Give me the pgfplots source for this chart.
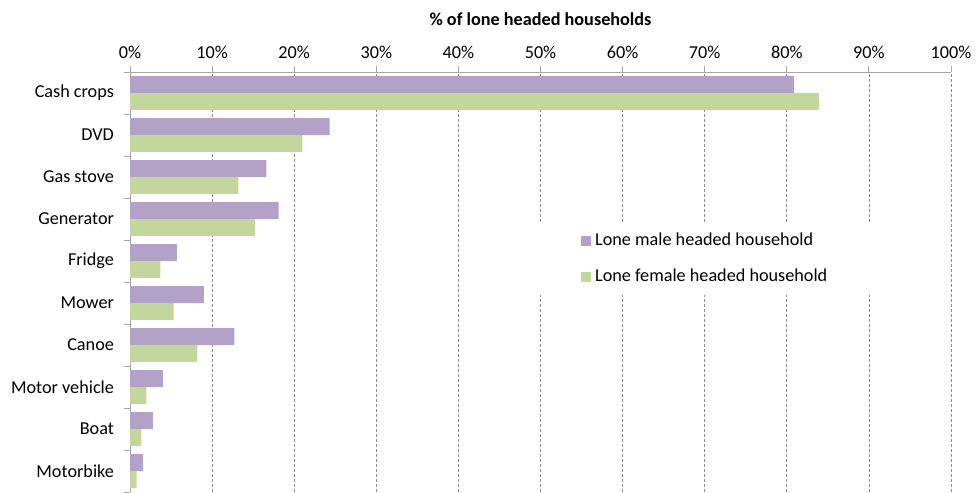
\documentclass[border=0pt]{standalone}
\usepackage{pgfplots}
\pgfplotsset{compat=1.18}
\usepackage{fontspec}
\setmainfont{Carlito}
\definecolor{malec}{HTML}{B3A2C7}
\definecolor{femalec}{HTML}{C3D69B}
\definecolor{axisgray}{HTML}{A6A6A6}
\definecolor{gridgray}{HTML}{8C8C8C}
\begin{document}
\begin{tikzpicture}[font=\fontsize{9.1pt}{11pt}\selectfont]
\useasboundingbox (-65pt,0) rectangle (423.5pt,246pt);
\begin{axis}[
  at={(0,0)}, anchor=south west,
  scale only axis, width=410.5pt, height=210pt,
  xmin=0, xmax=100, ymin=-0.5, ymax=9.5,
  xbar, bar width=0.4, bar shift=0pt,
  axis x line*=top, axis y line*=left,
  axis line style={axisgray, line width=0.5pt},
  tick style={axisgray, line width=0.5pt},
  tick align=outside, major tick length=3pt,
  xtick={0,10,...,100},
  xticklabel pos=upper,
  xticklabel={\pgfmathprintnumber{\tick}\%},
  /pgf/number format/assume math mode=true,
  xmajorgrids,
  major x grid style={gridgray, dash pattern=on 1.5pt off 1pt, line width=0.4pt},
  ytick={-0.5,0.5,...,9.5},
  yticklabels={},
  extra y ticks={0,1,2,3,4,5,6,7,8,9},
  extra y tick labels={Motorbike,Boat,Motor vehicle,Canoe,Mower,Fridge,Generator,Gas stove,DVD,Cash crops},
  extra y tick style={tick style={draw=none}, yticklabel style={xshift=-1.5pt}},
  xlabel={\textbf{\% of lone headed households}},
  xlabel style={at={(rel axis cs:0.5,1)}, anchor=base, yshift=23.5pt},
  legend style={at={(rel axis cs:0.493,0.642)}, anchor=north west, draw=none, fill=white,
    inner xsep=23pt, inner ysep=3pt, row sep=6.3pt, font=\fontsize{9.1pt}{11pt}\selectfont},
  legend cell align=left,
  legend image code/.code={\fill[#1] (0pt,-2.5pt) rectangle (5pt,2.5pt);},
]
\addplot[fill=malec, draw=none] coordinates {
  (1.6,0.2) (2.8,1.2) (4.0,2.2) (12.7,3.2) (9.0,4.2) (5.7,5.2) (18.1,6.2) (16.6,7.2) (24.3,8.2) (80.9,9.2)
};
\addlegendentry{Lone male headed household}
\addplot[fill=femalec, draw=none] coordinates {
  (0.8,-0.2) (1.4,0.8) (2.0,1.8) (8.2,2.8) (5.3,3.8) (3.7,4.8) (15.2,5.8) (13.2,6.8) (21.0,7.8) (83.9,8.8)
};
\addlegendentry{Lone female headed household}
\end{axis}
\end{tikzpicture}
\end{document}
